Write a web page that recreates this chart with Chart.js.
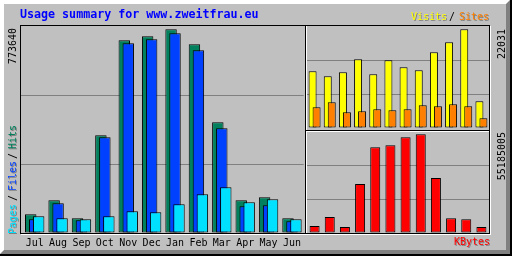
<!DOCTYPE html>
<html lang="en">
<head>
<meta charset="UTF-8">
<title>Usage summary for www.zweitfrau.eu</title>
<script src="https://cdn.jsdelivr.net/npm/chart.js"></script>
<style>
  body { margin: 0; }
  #wrap { position: relative; width: 512px; height: 256px; background: #000; overflow: hidden; }
  #bevel { position: absolute; left: 0; top: 0; width: 510px; height: 254px; box-sizing: border-box;
           border: 4px solid; border-color: #fff #808080 #808080 #fff; background: #c0c0c0; }
  canvas { position: absolute; }
  .frame { position: absolute; box-sizing: border-box; border: 1px solid #000; box-shadow: 1px 1px 0 #fff; }
  .txt { position: absolute; white-space: nowrap; font: 10px/10px 'DejaVu Sans Mono', monospace; }
  .shadow { text-shadow: 1px 1px 0 #808080; }
  .up { position: absolute; width: 100px; height: 10px; text-align: right; transform: rotate(-90deg); transform-origin: 0 0;
        white-space: nowrap; font: 10px/10px 'DejaVu Sans Mono', monospace; color: #000; }
  .up span { position: absolute; top: 0; text-shadow: -1px 1px 0 #808080; }
  #title { left: 20px; top: 9px; font: bold 11.67px/11.67px 'DejaVu Sans Mono', monospace; color: #0000ff; }
</style>
</head>
<body>
<div id="wrap">
  <div id="bevel"></div>

  <canvas id="main" width="284" height="230" style="left:21px;top:26px"></canvas>
  <canvas id="visits" width="184" height="102" style="left:305px;top:26px"></canvas>
  <canvas id="kbytes" width="184" height="102" style="left:305px;top:131px"></canvas>

  <div class="frame" style="left:20px;top:25px;width:286px;height:209px"></div>
  <div class="frame" style="left:305px;top:25px;width:185px;height:106px"></div>
  <div class="frame" style="left:305px;top:130px;width:185px;height:104px"></div>

  <div id="title" class="txt">Usage summary for www.zweitfrau.eu</div>
  <div class="txt shadow" style="left:411px;top:11.5px;color:#ffff00">Visits</div>
  <div class="txt" style="left:449px;top:11.5px;color:#000">/</div>
  <div class="txt shadow" style="left:459px;top:11.5px;color:#ff8000">Sites</div>
  <div class="txt shadow" style="left:454px;top:237px;color:#ff0000">KBytes</div>

  <div class="up" id="maxHits" style="left:8px;top:128px"></div>
  <div class="up" id="maxVisits" style="left:497px;top:129px"></div>
  <div class="up" id="maxKbytes" style="left:497px;top:232px"></div>
  <div class="up" style="left:8px;top:233.5px;width:120px;text-align:left">
    <span style="left:0;color:#00e0ff">Pages</span>
    <span style="left:33px;color:#000;text-shadow:none">/</span>
    <span style="left:43px;color:#0040ff">Files</span>
    <span style="left:75px;color:#000;text-shadow:none">/</span>
    <span style="left:85px;color:#00805c">Hits</span>
  </div>
</div>

<script>
// monthly totals, Jul .. Jun
const months = ['Jul', 'Aug', 'Sep', 'Oct', 'Nov', 'Dec', 'Jan', 'Feb', 'Mar', 'Apr', 'May', 'Jun'];
const hits   = [71000, 124200, 55800, 371100, 731900, 747100, 773640, 716700, 420400, 124200, 135600, 55800];
const files  = [52000, 112800, 48200, 363500, 720500, 735700, 758500, 693900, 397700, 101400, 105200, 44400];
const pages  = [63400, 55800, 52000, 63400, 82400, 78600, 109000, 147000, 173600, 116600, 128000, 52000];
const visits = [12660, 11540, 12430, 15340, 11990, 15110, 13550, 12880, 16900, 19130, 22031, 5960];
const sites  = [4620, 5740, 3500, 3730, 4170, 3950, 4170, 5070, 4840, 5290, 4840, 2170];
const kbytes = [3910000, 8950000, 3350000, 27400000, 47920000, 49030000, 53510000, 55185005, 30750000, 8220000, 7660000, 3350000];

const maxHits = Math.max(...hits);
const maxVisits = Math.max(...visits);
const maxKbytes = Math.max(...kbytes);

document.getElementById('maxHits').textContent = maxHits;
document.getElementById('maxVisits').textContent = maxVisits;
document.getElementById('maxKbytes').textContent = maxKbytes;

// draw datasets left to right so the later (right) bar sits on top
const drawInOrder = {
  id: 'drawInOrder',
  beforeDatasetDraw: () => false,
  afterDatasetsDraw(chart) {
    chart.getSortedVisibleDatasetMetas().forEach(m => m.controller.draw());
  }
};

function yAxis(top) {
  return {
    min: 0,
    max: top,
    ticks: { display: false, count: 4 },
    grid: {
      color: c => (c.index === 1 || c.index === 2) ? '#808080' : 'rgba(0,0,0,0)',
      drawTicks: true,
      tickLength: 2
    },
    border: { display: false },
    afterFit: s => { s.width = 2; }
  };
}

function bars(data, color, catPct, barPct) {
  return {
    data: data,
    backgroundColor: color,
    borderColor: '#000',
    borderWidth: 1,
    borderSkipped: false,
    inflateAmount: 0,
    categoryPercentage: catPct,
    barPercentage: barPct
  };
}

const common = {
  responsive: false,
  animation: false,
  devicePixelRatio: 1,
  events: [],
  layout: { padding: 0 },
  plugins: { legend: { display: false }, tooltip: { enabled: false } }
};

new Chart(document.getElementById('main'), {
  type: 'bar',
  data: {
    labels: months,
    datasets: [
      bars(hits, '#00805c', 0.51, 2.875),
      bars(files, '#0040ff', 0.51, 2.875),
      bars(pages, '#00e0ff', 0.51, 2.875)
    ]
  },
  options: {
    ...common,
    scales: {
      x: {
        offset: true,
        grid: { display: false, drawTicks: false },
        border: { display: false },
        ticks: {
          color: '#000',
          font: { family: 'DejaVu Sans Mono', size: 10, lineHeight: 1.2 },
          padding: 4,
          maxRotation: 0,
          autoSkip: false
        },
        afterFit: s => { s.height = 23; }
      },
      y: yAxis(maxHits * 207 / 203.7)
    }
  },
  plugins: [drawInOrder]
});

new Chart(document.getElementById('visits'), {
  type: 'bar',
  data: {
    labels: months,
    datasets: [
      bars(visits, '#ffff00', 0.527, 2),
      bars(sites, '#ff8000', 0.527, 2)
    ]
  },
  options: {
    ...common,
    scales: {
      x: { display: false, offset: true },
      y: yAxis(maxVisits * 102 / 98.7)
    }
  },
  plugins: [drawInOrder]
});

new Chart(document.getElementById('kbytes'), {
  type: 'bar',
  data: {
    labels: months,
    datasets: [ bars(kbytes, '#ff0000', 0.66, 1) ]
  },
  options: {
    ...common,
    scales: {
      x: { display: false, offset: true },
      y: yAxis(maxKbytes * 102 / 98.7)
    }
  }
});
</script>
</body>
</html>
